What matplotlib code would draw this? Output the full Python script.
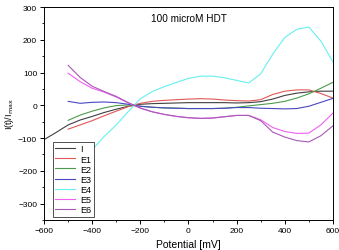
import matplotlib
matplotlib.use("Agg")
import matplotlib.pyplot as plt
from matplotlib.ticker import MultipleLocator

plt.rcParams['font.family'] = ['Liberation Sans', 'DejaVu Sans']

# potential grid [mV]
x = [-500, -450, -400, -350, -300, -250, -200, -150, -100, -50, 0, 50,
     100, 150, 200, 250, 300, 350, 400, 450, 500, 550, 600]
x_i = [-600, -550] + x

i_0 = [-105, -83, -60, -45, -34, -22, -12, -3, 3, 5, 6, 7, 8, 8, 8, 8, 7, 8,
       11, 19, 30, 37, 41, 43, 43]
e1 = [-73, -60, -47, -32, -18, -4, 6, 12, 15, 17, 19, 20, 19, 16, 14, 13, 17,
      33, 43, 47, 47, 36, 22]
e2 = [-46, -30, -18, -8, -1, 1, -3, -6, -8, -9, -10, -10, -10, -9, -6, -2, 2,
      6, 12, 22, 35, 52, 70]
e3 = [12, 6, 9, 10, 8, 3, -3, -6, -8, -9, -10, -10, -10, -9, -7, -7, -9, -10,
      -11, -10, -3, 9, 21]
e4 = [-215, -175, -136, -95, -60, -19, 20, 42, 57, 70, 82, 89, 89, 84, 76, 68,
      96, 156, 207, 232, 239, 196, 133]
e5 = [98, 72, 52, 40, 25, 7, -8, -20, -28, -34, -38, -40, -39, -35, -31, -31,
      -44, -68, -80, -86, -85, -60, -24]
e6 = [122, 85, 58, 42, 27, 8, -9, -20, -28, -34, -38, -40, -39, -35, -31, -31,
      -47, -82, -97, -108, -112, -93, -63]

labels = ['I', 'E1', 'E2', 'E3', 'E4', 'E5', 'E6']
colors = ['#404040', '#e05858', '#4c9c4c', '#4848c0', '#66f0f0', '#f060f0', '#a858b8']

fig = plt.figure(figsize=(3.39, 2.51), dpi=100)
ax = fig.add_axes([0.130, 0.120, 0.852, 0.848])

series = [(x_i, i_0), (x, e1), (x, e2), (x, e3), (x, e4), (x, e5), (x, e6)]
for (xs, ys), lab, c in zip(series, labels, colors):
    ax.plot(xs, ys, color=c, lw=0.8, label=lab)

ax.set_xlim(-600, 600)
ax.set_ylim(-350, 300)
ax.xaxis.set_major_locator(MultipleLocator(200))
ax.xaxis.set_minor_locator(MultipleLocator(100))
ax.yaxis.set_major_locator(MultipleLocator(100))
ax.yaxis.set_minor_locator(MultipleLocator(50))
ax.tick_params(which='major', direction='out', length=3, width=0.7, labelsize=6, pad=2)
ax.tick_params(which='minor', direction='out', length=1.5, width=0.6)
for s in ax.spines.values():
    s.set_linewidth(0.7)

ax.set_xlabel('Potential [mV]', fontsize=7.5, labelpad=4)
ax.set_ylabel('I(t)/I$_{\\mathrm{max}}$', fontsize=6.5, labelpad=1.5)

ax.text(0, 265, '100 microM HDT', fontsize=7.2, ha='center', va='center')

leg = ax.legend(loc='lower left', bbox_to_anchor=(0.03, 0.015), fontsize=6.5,
                frameon=True, fancybox=False, framealpha=1, edgecolor='#333333',
                handlelength=2.2, labelspacing=0.12, borderpad=0.3,
                handletextpad=0.5, borderaxespad=0)
leg.get_frame().set_linewidth(0.6)

fig.savefig('out.png', dpi=100)
